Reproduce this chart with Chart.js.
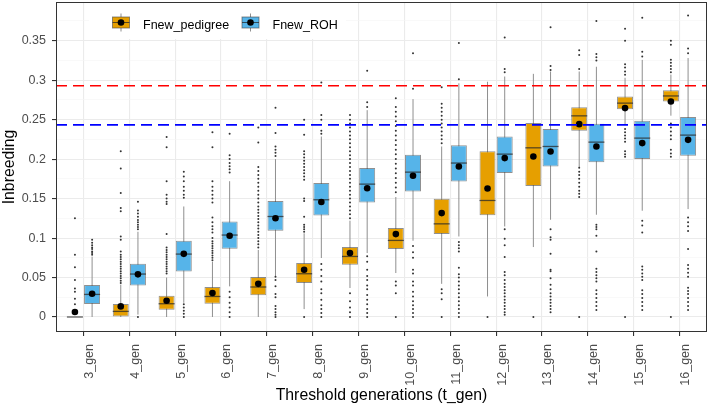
<!DOCTYPE html>
<html>
<head>
<meta charset="utf-8">
<script src="https://cdn.jsdelivr.net/npm/chart.js@4.4.1/dist/chart.umd.min.js"></script>
<style>
  html, body { margin: 0; padding: 0; background: #fff; }
  canvas { display: block; }
</style>
</head>
<body>
<canvas id="chart" width="709" height="407"></canvas>
<script>
/* categories */
const gens = ['3_gen','4_gen','5_gen','6_gen','7_gen','8_gen','9_gen','10_gen','11_gen','12_gen','13_gen','14_gen','15_gen','16_gen'];

/* Fnew_pedigree box stats */
const pedQ1   = [0, 0, 0.0092, 0.0168, 0.0274, 0.043, 0.0662, 0.086, 0.105, 0.129, 0.166, 0.2358, 0.2633, 0.2729];
const pedMed  = [0, 0.0071, 0.0168, 0.026, 0.038, 0.0548, 0.0767, 0.097, 0.118, 0.1476, 0.2143, 0.2548, 0.2709, 0.28];
const pedQ3   = [0, 0.0165, 0.027, 0.038, 0.0506, 0.0683, 0.0886, 0.1127, 0.1497, 0.21, 0.2456, 0.2658, 0.2792, 0.2873];
const pedLo   = [0, 0, 0, 0, 0, 0.01, 0.0367, 0.0557, 0.042, 0.026, 0.0886, 0.19, 0.243, 0.255];
const pedHi   = [0, 0.041, 0.05, 0.07, 0.085, 0.106, 0.122, 0.152, 0.216, 0.298, 0.308, 0.311, 0.303, 0.307];
const pedMean = [0.0063, 0.0134, 0.0206, 0.0304, 0.042, 0.0599, 0.081, 0.105, 0.1316, 0.1628, 0.2033, 0.2443, 0.2646, 0.273];
const pedOut = [
  [0.016, 0.023, 0.032, 0.036, 0.047, 0.063, 0.079, 0.125],
  [0.043, 0.046, 0.049, 0.052, 0.055, 0.058, 0.061, 0.064, 0.067, 0.07, 0.073, 0.076, 0.079, 0.083, 0.098, 0.102, 0.134, 0.138, 0.157, 0.188, 0.21],
  [0.055, 0.058, 0.061, 0.064, 0.067, 0.07, 0.073, 0.076, 0.079, 0.082, 0.085, 0.088, 0.105, 0.143, 0.146, 0.15, 0.155, 0.172, 0.215, 0.228],
  [0.072, 0.075, 0.078, 0.081, 0.084, 0.087, 0.09, 0.093, 0.096, 0.1, 0.107, 0.111, 0.115, 0.12, 0.126, 0.145, 0.15, 0.155, 0.16, 0.165, 0.172, 0.215, 0.234],
  [0.088, 0.092, 0.096, 0.1, 0.104, 0.108, 0.112, 0.116, 0.12, 0.124, 0.128, 0.132, 0.136, 0.14, 0.145, 0.15, 0.155, 0.16, 0.165, 0.17, 0.175, 0.18, 0.185, 0.19, 0.221, 0.24],
  [0, 0.108, 0.111, 0.114, 0.117, 0.127, 0.147, 0.15, 0.174, 0.178, 0.182, 0.186, 0.19, 0.194, 0.198, 0.202, 0.206, 0.21, 0.231, 0.25],
  [0, 0.006, 0.012, 0.02, 0.03, 0.125, 0.13, 0.135, 0.14, 0.145, 0.15, 0.155, 0.16, 0.165, 0.17, 0.175, 0.18, 0.185, 0.19, 0.195, 0.2, 0.205, 0.21, 0.215, 0.22, 0.225, 0.23, 0.235, 0.24, 0.245, 0.25, 0.256],
  [0, 0.03, 0.04, 0.045, 0.158, 0.164, 0.17, 0.176, 0.182, 0.188, 0.194, 0.2, 0.206, 0.212, 0.218, 0.224, 0.23, 0.236, 0.242, 0.248, 0.254, 0.26, 0.266, 0.277],
  [0, 0.0225, 0.03, 0.035, 0.22, 0.225, 0.23, 0.235, 0.24, 0.245, 0.25, 0.255, 0.26, 0.265, 0.27, 0.291],
  [0],
  [0],
  [0, 0.152, 0.156, 0.16, 0.165, 0.17, 0.175, 0.18, 0.184, 0.189, 0.314, 0.332, 0.338],
  [0, 0.203, 0.206, 0.21, 0.222, 0.226, 0.23, 0.234, 0.238, 0.307, 0.311, 0.316, 0.32, 0.35, 0.365],
  [0, 0.203, 0.207, 0.212, 0.225, 0.23, 0.235, 0.24, 0.245, 0.31, 0.314, 0.318, 0.322, 0.326, 0.345, 0.35]
];

/* Fnew_ROH box stats */
const rohQ1   = [0.0165, 0.040, 0.0577, 0.0865, 0.1092, 0.1286, 0.145, 0.159, 0.1716, 0.1823, 0.1906, 0.196, 0.2, 0.2042];
const rohMed  = [0.0286, 0.0544, 0.0797, 0.1038, 0.1273, 0.1485, 0.1683, 0.1835, 0.195, 0.2063, 0.216, 0.2215, 0.2266, 0.2304];
const rohQ3   = [0.0405, 0.0675, 0.0966, 0.121, 0.1468, 0.1696, 0.1886, 0.2054, 0.2177, 0.2286, 0.238, 0.2447, 0.2485, 0.2532];
const rohLo   = [0, 0.003, 0.018, 0.0388, 0.052, 0.0747, 0.081, 0.0966, 0.102, 0.1147, 0.1232, 0.1295, 0.1346, 0.1367];
const rohHi   = [0.0765, 0.108, 0.140, 0.172, 0.2, 0.2286, 0.262, 0.276, 0.296, 0.3046, 0.311, 0.317, 0.3257, 0.328];
const rohMean = [0.0295, 0.054, 0.080, 0.103, 0.125, 0.1456, 0.163, 0.1789, 0.1906, 0.2013, 0.2096, 0.216, 0.2203, 0.2244];
const rohOut = [
  [0.079, 0.081, 0.083, 0.086, 0.088, 0.091, 0.094, 0.098],
  [0, 0.111, 0.114, 0.117, 0.12, 0.123, 0.127, 0.131, 0.135, 0.146],
  [0, 0.004, 0.008, 0.012, 0.016, 0.151, 0.155, 0.16, 0.165, 0.172, 0.178, 0.184],
  [0, 0.006, 0.012, 0.018, 0.025, 0.032, 0.183, 0.187, 0.191, 0.195, 0.2, 0.205, 0.232],
  [0, 0.003, 0.006, 0.01, 0.014, 0.025, 0.029, 0.039, 0.047, 0.051, 0.204, 0.208, 0.212, 0.216, 0.233, 0.265],
  [0, 0.005, 0.01, 0.015, 0.022, 0.03, 0.035, 0.045, 0.052, 0.06, 0.067, 0.232, 0.236, 0.25, 0.256, 0.297],
  [0, 0.005, 0.01, 0.016, 0.022, 0.028, 0.035, 0.04, 0.047, 0.052, 0.06, 0.07, 0.077, 0.266, 0.272, 0.312],
  [0, 0.005, 0.01, 0.015, 0.02, 0.026, 0.032, 0.04, 0.045, 0.055, 0.06, 0.075, 0.082, 0.09, 0.289, 0.334],
  [0, 0.005, 0.01, 0.015, 0.02, 0.025, 0.03, 0.035, 0.04, 0.045, 0.05, 0.054, 0.0625, 0.083, 0.087, 0.091, 0.095, 0.301, 0.347],
  [0.003, 0.006, 0.01, 0.014, 0.018, 0.022, 0.026, 0.03, 0.034, 0.038, 0.042, 0.047, 0.053, 0.057, 0.076, 0.091, 0.099, 0.111, 0.31, 0.314, 0.354],
  [0.006, 0.01, 0.014, 0.018, 0.022, 0.026, 0.03, 0.035, 0.041, 0.049, 0.058, 0.06, 0.08, 0.098, 0.101, 0.111, 0.313, 0.318, 0.367],
  [0.009, 0.014, 0.019, 0.024, 0.029, 0.034, 0.045, 0.049, 0.053, 0.057, 0.061, 0.083, 0.103, 0.111, 0.114, 0.117, 0.325, 0.329, 0.333, 0.375],
  [0.009, 0.014, 0.019, 0.024, 0.029, 0.034, 0.047, 0.051, 0.055, 0.06, 0.064, 0.107, 0.116, 0.122, 0.33, 0.336, 0.379],
  [0.009, 0.014, 0.019, 0.024, 0.029, 0.033, 0.037, 0.051, 0.056, 0.061, 0.066, 0.086, 0.109, 0.115, 0.12, 0.126, 0.334, 0.34, 0.382]
];

/* reference lines (red, blue) */
const refLines  = [0.293, 0.2434];
const refColors = ['#FF0000', '#0000FF'];

const FONT = "'Liberation Sans', Arial, Helvetica, sans-serif";
Chart.defaults.font.family = FONT;

const isMajor = v => Math.abs(v / 0.05 - Math.round(v / 0.05)) < 1e-6;

/* whiskers, outliers, medians, means, dashed lines, legend */
const boxExtras = {
    id: 'boxExtras',
    beforeDatasetsDraw(chart) {
        const {ctx, scales: {y}} = chart;
        ctx.save();
        chart.data.datasets.forEach((ds, di) => {
            const meta = chart.getDatasetMeta(di);
            meta.data.forEach((bar, i) => {
                ctx.strokeStyle = '#8f8f8f';
                ctx.lineWidth = 1;
                ctx.beginPath();
                ctx.moveTo(bar.x, y.getPixelForValue(ds.lo[i]));
                ctx.lineTo(bar.x, y.getPixelForValue(ds.hi[i]));
                ctx.stroke();
                ctx.fillStyle = '#333';
                ds.out[i].forEach(v => {
                    ctx.beginPath();
                    ctx.arc(bar.x, y.getPixelForValue(v), 1.0, 0, Math.PI * 2);
                    ctx.fill();
                });
            });
        });
        ctx.restore();
    },
    afterDatasetsDraw(chart) {
        const {ctx, chartArea: a, scales: {y}} = chart;
        ctx.save();
        chart.data.datasets.forEach((ds, di) => {
            const meta = chart.getDatasetMeta(di);
            meta.data.forEach((bar, i) => {
                const py = y.getPixelForValue(ds.med[i]);
                ctx.strokeStyle = 'rgba(40,40,40,0.75)';
                ctx.lineWidth = 1.3;
                ctx.beginPath();
                ctx.moveTo(bar.x - bar.width / 2, py);
                ctx.lineTo(bar.x + bar.width / 2, py);
                ctx.stroke();
                ctx.fillStyle = '#000';
                ctx.beginPath();
                ctx.arc(bar.x, y.getPixelForValue(ds.mean[i]), 3.3, 0, Math.PI * 2);
                ctx.fill();
            });
        });
        refLines.forEach((v, k) => {
            const py = y.getPixelForValue(v);
            ctx.strokeStyle = refColors[k];
            ctx.lineWidth = 1.6;
            ctx.setLineDash([11, 6]);
            ctx.beginPath();
            ctx.moveTo(a.left, py);
            ctx.lineTo(a.right, py);
            ctx.stroke();
        });
        ctx.restore();
    },
    afterDraw(chart) {
        const {ctx, chartArea: a} = chart;
        ctx.save();
        /* legend */
        ctx.fillStyle = '#fff';
        ctx.fillRect(89, a.top, 257, 37);
        const keys = [{x: 121, tx: 143}, {x: 250.5, tx: 272.5}];
        chart.data.datasets.forEach((ds, di) => {
            const k = keys[di];
            ctx.strokeStyle = '#8f8f8f';
            ctx.lineWidth = 1;
            ctx.beginPath();
            ctx.moveTo(k.x, 13.5);
            ctx.lineTo(k.x, 31.5);
            ctx.stroke();
            ctx.fillStyle = ds.backgroundColor;
            ctx.fillRect(k.x - 8.5, 17, 17, 11);
            ctx.strokeStyle = ds.borderColor;
            ctx.strokeRect(k.x - 8.5, 17, 17, 11);
            ctx.strokeStyle = 'rgba(40,40,40,0.75)';
            ctx.beginPath();
            ctx.moveTo(k.x - 8.5, 22.5);
            ctx.lineTo(k.x + 8.5, 22.5);
            ctx.stroke();
            ctx.fillStyle = '#000';
            ctx.beginPath();
            ctx.arc(k.x, 22.5, 3.3, 0, Math.PI * 2);
            ctx.fill();
            ctx.font = '12.5px ' + FONT;
            ctx.textBaseline = 'alphabetic';
            ctx.textAlign = 'left';
            ctx.fillText(ds.label, k.tx, 29);
        });
        /* panel border */
        ctx.strokeStyle = '#333';
        ctx.lineWidth = 1;
        ctx.strokeRect(a.left + 0.5, a.top + 0.5, a.right - a.left - 1, a.bottom - a.top - 1);
        ctx.restore();
    }
};

new Chart(document.getElementById('chart'), {
    type: 'bar',
    data: {
        labels: gens,
        datasets: [
            {
                label: 'Fnew_pedigree',
                data: gens.map((g, i) => [pedQ1[i], pedQ3[i]]),
                med: pedMed, lo: pedLo, hi: pedHi, mean: pedMean, out: pedOut,
                backgroundColor: '#E69F00', borderColor: 'rgba(70,70,70,0.6)',
                borderWidth: 1, borderSkipped: false,
                categoryPercentage: 0.75, barPercentage: 0.93
            },
            {
                label: 'Fnew_ROH',
                data: gens.map((g, i) => [rohQ1[i], rohQ3[i]]),
                med: rohMed, lo: rohLo, hi: rohHi, mean: rohMean, out: rohOut,
                backgroundColor: '#56B4E9', borderColor: 'rgba(70,70,70,0.6)',
                borderWidth: 1, borderSkipped: false,
                categoryPercentage: 0.75, barPercentage: 0.93
            }
        ]
    },
    options: {
        responsive: false, animation: false,
        layout: {padding: {top: 2, right: 2, left: 0, bottom: 0}},
        plugins: {legend: {display: false}, tooltip: {enabled: false}},
        scales: {
            x: {
                offset: true,
                afterBuildTicks: s => { s._startValue = -0.6; s._valueRange = gens.length + 0.2; },
                afterFit: s => { s.height = 75; s.paddingLeft = 0; s.paddingRight = 0; },
                ticks: {maxRotation: 90, minRotation: 90, autoSkip: false, padding: 8, labelOffset: 6,
                        color: '#4D4D4D', font: {size: 12.5}},
                grid: {offset: false, color: '#EBEBEB', lineWidth: 1.1, tickColor: '#333', tickLength: 4},
                border: {display: false},
                title: {display: true, text: 'Threshold generations (t_gen)', color: '#000',
                        font: {size: 15.8}, padding: {top: 0, bottom: 2}}
            },
            y: {
                min: -0.019, max: 0.399,
                afterFit: s => { s.width = 56; s.paddingTop = 0; s.paddingBottom = 0; },
                ticks: {stepSize: 0.025, includeBounds: false, autoSkip: false, padding: 6,
                        color: '#4D4D4D', font: {size: 12.5},
                        callback: v => isMajor(v) ? String(parseFloat(v.toFixed(3))) : ''},
                grid: {
                    color: c => isMajor(c.tick.value) ? '#EBEBEB' : '#F5F5F5',
                    lineWidth: c => isMajor(c.tick.value) ? 1.1 : 0.6,
                    tickColor: c => isMajor(c.tick.value) ? '#333' : 'rgba(0,0,0,0)',
                    tickLength: 4
                },
                border: {display: false},
                title: {display: true, text: 'Inbreeding', color: '#000',
                        font: {size: 15.8}, padding: {top: 0, bottom: 0}}
            }
        }
    },
    plugins: [boxExtras]
});
</script>
</body>
</html>
